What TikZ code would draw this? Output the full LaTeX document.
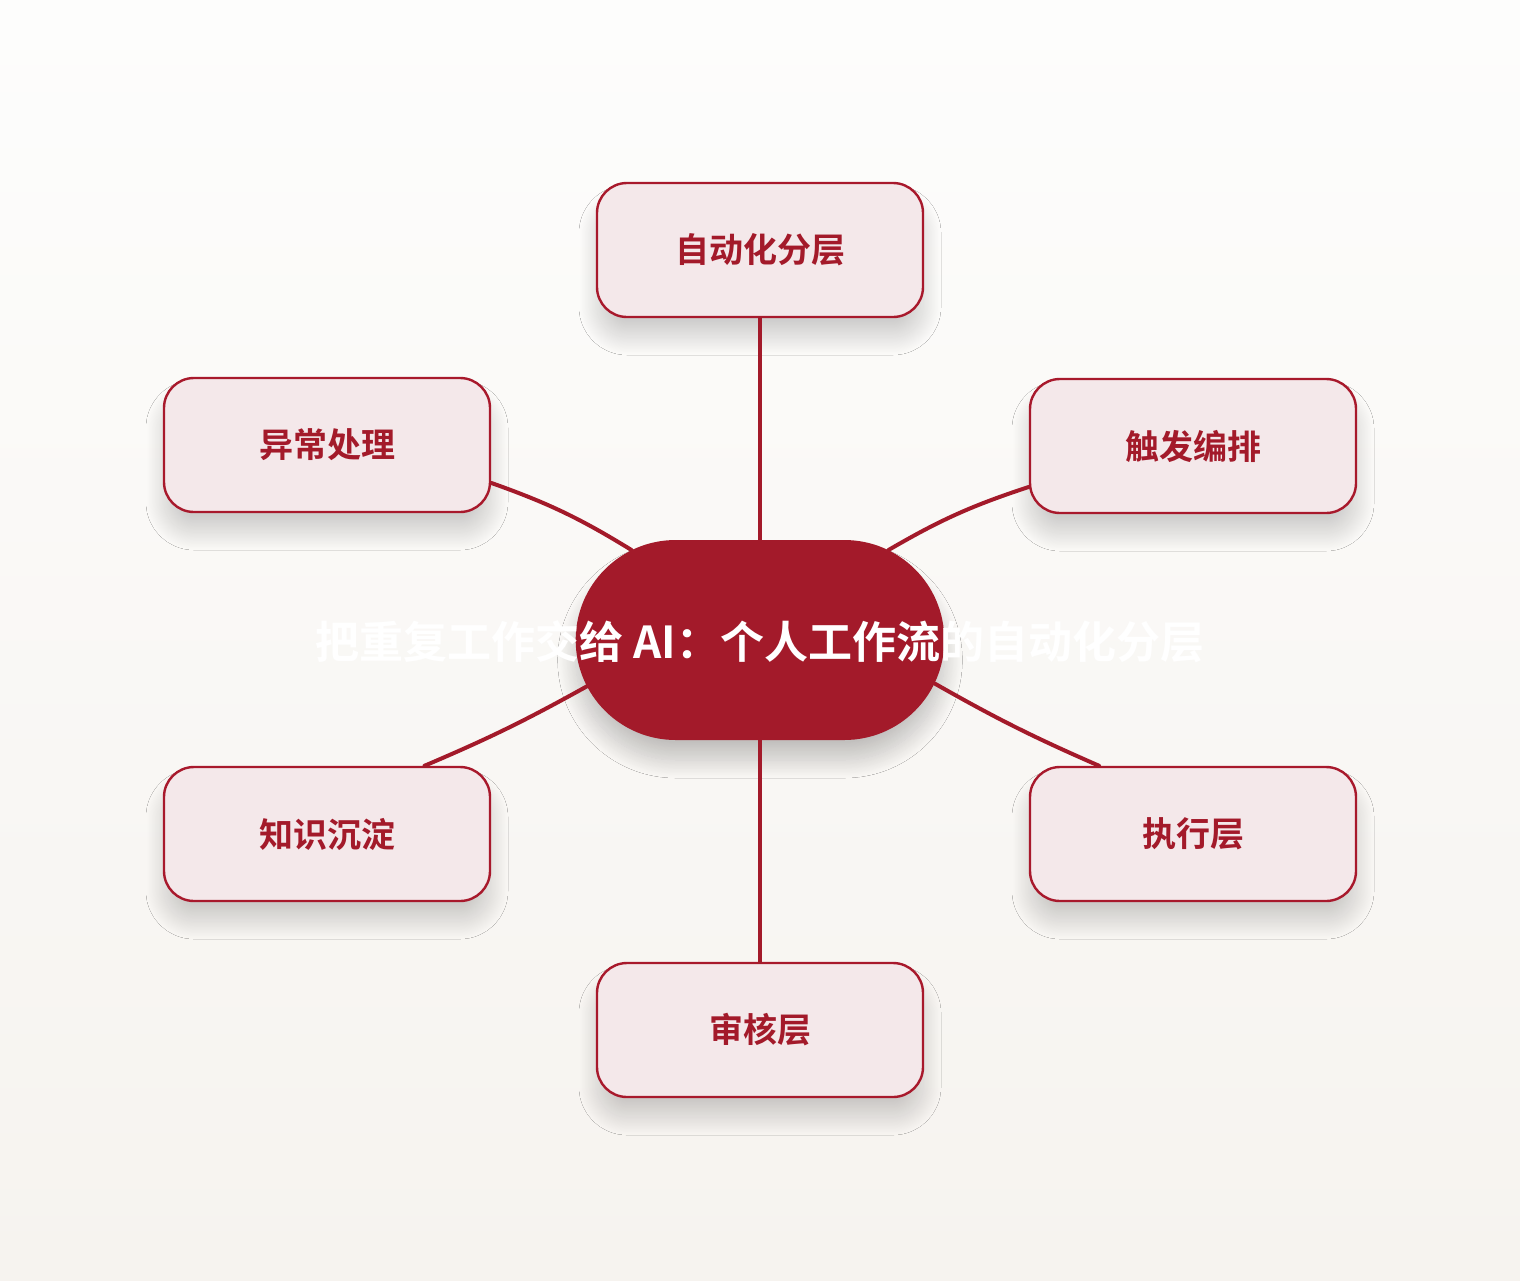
\documentclass[tikz,border=0pt]{standalone}
\usepackage{fontspec}
\setmainfont{Noto Sans CJK SC}[BoldFont={Noto Sans CJK SC Bold}]
\usetikzlibrary{shapes.misc, shadows.blur}
\definecolor{hubred}{HTML}{A31A2A}
\definecolor{boxfill}{HTML}{F4E8EA}
\definecolor{boxline}{HTML}{A8192C}
\definecolor{bgtop}{HTML}{FDFDFC}
\definecolor{bgbottom}{HTML}{F6F3EF}

\begin{document}
\begin{tikzpicture} [x=0.5pt, y=0.5pt,
    topic/.style={draw=boxline, line width=1.2pt, fill=boxfill, rounded corners=15pt,
        minimum width=163pt, minimum height=67pt, text=hubred,
        font=\bfseries\fontsize{17}{20}\selectfont,
        blur shadow={shadow xshift=0pt, shadow yshift=-10pt, shadow blur radius=9pt, shadow blur steps=24, shadow opacity=18}},
    hub/.style={rounded rectangle, fill=hubred, minimum width=191pt, minimum height=100pt,
        blur shadow={shadow xshift=0pt, shadow yshift=-10pt, shadow blur radius=9pt, shadow blur steps=24, shadow opacity=22}},
    link/.style={draw=hubred, line width=2pt, line cap=round}]
        \shade[top color=bgtop, bottom color=bgbottom] (0,0) rectangle (1520,-1280);

        \node[hub] (hub) at (760,-640) {};
        \node[text=white, font=\bfseries\fontsize{22}{26}\selectfont] (title) at (760,-642) {把重复工作交给 AI：个人工作流的自动化分层};

        \node[topic] (top) at (760,-250) {自动化分层};
        \node[topic] (ul) at (327,-445) {异常处理};
        \node[topic] (ur) at (1193,-446) {触发编排};
        \node[topic] (ll) at (327,-834) {知识沉淀};
        \node[topic] (lr) at (1193,-834) {执行层};
        \node[topic] (bot) at (760,-1030) {审核层};

        \draw[link] (top.south) -- (hub.north);
        \draw[link] (ul.-13.5) to[bend left=6] (hub.145);
        \draw[link] (ur.-166) to[bend right=6] (hub.35);
        \draw[link] (ll.35.8) to[bend right=3] (hub.-165.6);
        \draw[link] (lr.144.2) to[bend left=3] (hub.-14.4);
        \draw[link] (bot.north) -- (hub.south);
    \end{tikzpicture}
\end{document}
